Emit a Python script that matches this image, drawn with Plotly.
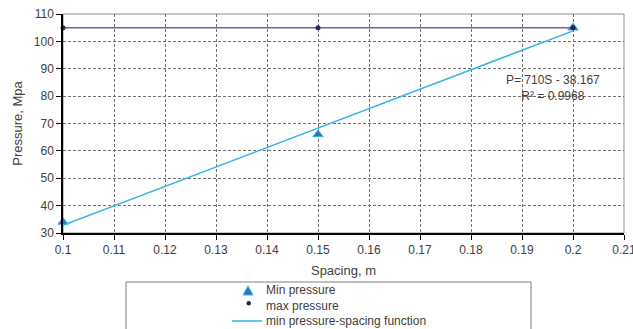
import plotly.graph_objects as go

spacing = [0.1, 0.15, 0.2]
min_pressure = [34, 66, 105]
max_pressure = [105, 105, 105]
fit_slope = 710
fit_intercept = -38.167
fit_pressure = [fit_slope * s + fit_intercept for s in spacing]
x_ticks = [0.1, 0.11, 0.12, 0.13, 0.14, 0.15, 0.16, 0.17, 0.18, 0.19, 0.2, 0.21]
y_ticks = [30, 40, 50, 60, 70, 80, 90, 100, 110]
legend_names = ["Min pressure", "max pressure", "min pressure-spacing function"]

FONT = "Liberation Sans"
TXT = "#404040"
C_MIN = "#2E75B6"
C_MIN_EDGE = "#33B5E5"
C_MAXLINE = "#8054B0"
C_MAXDOT = "#1F2A5C"
C_FIT = "#33B5E5"

# plot area in pixels (for converting legend decoration positions to paper coords)
L, R, T, B = 63, 624, 14, 233
def px(x):
    return (x - L) / (R - L)
def py(y):
    return (B - y) / (B - T)

fig = go.Figure()
fig.add_trace(go.Scatter(x=spacing, y=min_pressure, mode="markers", name=legend_names[0],
                         cliponaxis=False, showlegend=False,
                         marker=dict(symbol="triangle-up", size=9, color=C_MIN,
                                     line=dict(color=C_MIN_EDGE, width=1))))
fig.add_trace(go.Scatter(x=spacing, y=max_pressure, mode="lines", showlegend=False,
                         cliponaxis=False,
                         line=dict(color=C_MAXLINE, width=1.5), hoverinfo="skip"))
fig.add_trace(go.Scatter(x=spacing, y=max_pressure, mode="markers", name=legend_names[1],
                         cliponaxis=False, showlegend=False,
                         marker=dict(symbol="circle", size=5, color=C_MAXDOT)))
fig.add_trace(go.Scatter(x=[spacing[0], spacing[-1]], y=[fit_pressure[0], fit_pressure[-1]],
                         mode="lines", name=legend_names[2], showlegend=False,
                         cliponaxis=False,
                         line=dict(color=C_FIT, width=1.5)))

fig.add_annotation(x=0.196, y=83, xref="x", yref="y", showarrow=False,
                   text="P= 710S - 38.167<br>R² = 0.9968", align="center",
                   font=dict(family=FONT, size=12, color=TXT))

# plot frame (gray)
fig.add_shape(type="rect", xref="paper", yref="paper", x0=0, x1=1, y0=0, y1=1,
              line=dict(color="#8C8C8C", width=1), layer="below")

# legend box (Excel-style, drawn manually for compact row spacing)
fig.add_shape(type="rect", xref="paper", yref="paper",
              x0=px(126), x1=px(531), y0=py(345), y1=py(282),
              line=dict(color="#7F7F7F", width=1), fillcolor="rgba(0,0,0,0)")
rows = [290, 306, 321]
# triangle symbol
fig.add_shape(type="path", xref="paper", yref="paper",
              path=f"M {px(243)} {py(295)} L {px(253)} {py(295)} L {px(248)} {py(286)} Z",
              fillcolor=C_MIN, line=dict(color=C_MIN_EDGE, width=1))
# dot symbol
fig.add_shape(type="circle", xref="paper", yref="paper",
              x0=px(246.5), x1=px(251), y0=py(305.5), y1=py(301),
              fillcolor=C_MAXDOT, line=dict(color=C_MAXDOT, width=0))
# line symbol
fig.add_shape(type="line", xref="paper", yref="paper",
              x0=px(232), x1=px(262), y0=py(rows[2]), y1=py(rows[2]),
              line=dict(color=C_FIT, width=1.5))
for name, yrow in zip(legend_names, rows):
    fig.add_annotation(x=px(264), y=py(yrow), xref="paper", yref="paper", showarrow=False,
                       text=name, xanchor="left", yanchor="middle",
                       font=dict(family=FONT, size=12, color=TXT))

fig.update_layout(
    width=633, height=329,
    margin=dict(l=L, r=633 - R, t=T, b=329 - B, autoexpand=False),
    paper_bgcolor="white", plot_bgcolor="white",
    font=dict(family=FONT, size=12, color=TXT),
    showlegend=False,
    xaxis=dict(range=[0.1, 0.21], tickvals=x_ticks, ticktext=[f"{v:g}" for v in x_ticks],
               showgrid=True, gridcolor="#707070", griddash="3px,2px", gridwidth=1,
               showline=True, linecolor="#000000", linewidth=1.5,
               ticks="outside", ticklen=5, tickcolor="#000000", zeroline=False,
               ticklabeloverflow="allow",
               tickfont=dict(family=FONT, size=12, color=TXT),
               title=dict(text="Spacing, m", standoff=10,
                          font=dict(family=FONT, size=13, color=TXT))),
    yaxis=dict(range=[30, 110], tickvals=y_ticks,
               showgrid=True, gridcolor="#707070", griddash="3px,2px", gridwidth=1,
               showline=True, linecolor="#000000", linewidth=1.5,
               ticks="outside", ticklen=5, tickcolor="#000000", zeroline=False,
               tickfont=dict(family=FONT, size=12, color=TXT),
               title=dict(text="Pressure, Mpa", standoff=8,
                          font=dict(family=FONT, size=13, color=TXT))),
)

fig.write_html("out.html")
